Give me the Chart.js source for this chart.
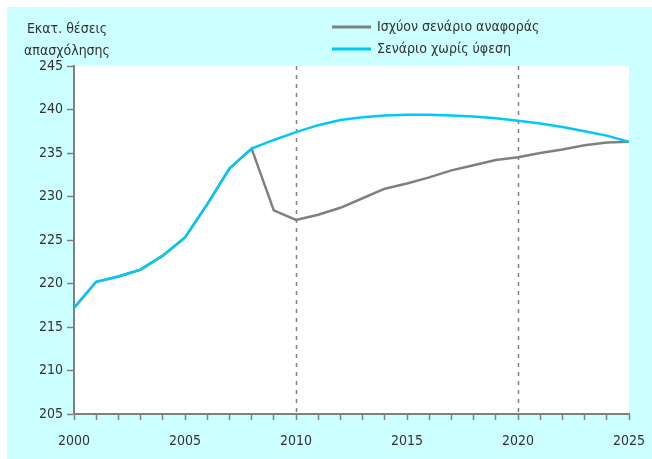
<!DOCTYPE html>
<html>
<head>
<meta charset="utf-8">
<script src="https://cdn.jsdelivr.net/npm/chart.js@4/dist/chart.umd.min.js"></script>
<style>
html,body{margin:0;padding:0;background:#fff;}
#wrap{position:relative;width:652px;height:459px;}
</style>
</head>
<body>
<div id="wrap"><canvas id="c" width="652" height="459"></canvas></div>
<script>
const years = [2000,2001,2002,2003,2004,2005,2006,2007,2008,2009,2010,2011,2012,2013,2014,2015,2016,2017,2018,2019,2020,2021,2022,2023,2024,2025];
const referenceScenario = [217.2,220.2,220.8,221.6,223.2,225.3,229.1,233.2,235.5,228.4,227.3,227.9,228.7,229.8,230.9,231.5,232.2,233.0,233.6,234.2,234.5,235.0,235.4,235.9,236.2,236.3];
const noRecessionScenario = [217.2,220.2,220.8,221.6,223.2,225.3,229.1,233.2,235.5,236.5,237.4,238.2,238.8,239.1,239.3,239.4,239.4,239.3,239.2,239.0,238.7,238.4,238.0,237.5,237.0,236.3];
const seriesNames = ['Ισχύον σενάριο αναφοράς','Σενάριο χωρίς ύφεση'];
const yTitle = ['Εκατ. θέσεις','απασχόλησης'];
const markerYears = [2010,2020];
const yTicks = [205,210,215,220,225,230,235,240,245];

const FONT = '"Liberation Sans Narrow", "DejaVu Sans Condensed", "Liberation Sans", sans-serif';
const GRAY = '#808080';
const CYAN = '#00C8F8';
const TEXT = '#333333';

const decor = {
  id:'decor',
  beforeDraw(chart){
    const ctx = chart.ctx, a = chart.chartArea;
    ctx.save();
    ctx.fillStyle = '#CCFFFF';
    ctx.fillRect(7,7,chart.width-7,chart.height-7);
    ctx.fillStyle = '#FFFFFF';
    ctx.fillRect(a.left,a.top,a.right-a.left,a.bottom-a.top);
    ctx.restore();
  },
  beforeDatasetsDraw(chart){
    const ctx = chart.ctx, a = chart.chartArea, xs = chart.scales.x;
    ctx.save();
    ctx.strokeStyle = GRAY;
    ctx.lineWidth = 1.5;
    ctx.setLineDash([4,5]);
    markerYears.forEach(yr=>{
      const px = Math.round(xs.getPixelForValue(yr))+0.5;
      ctx.beginPath(); ctx.moveTo(px,a.top); ctx.lineTo(px,a.bottom); ctx.stroke();
    });
    ctx.restore();
  },
  afterDraw(chart){
    const ctx = chart.ctx;
    ctx.save();
    ctx.fillStyle = TEXT;
    ctx.font = '14px ' + FONT;
    ctx.textBaseline = 'middle';
    ctx.textAlign = 'center';
    ctx.fillText(yTitle[0], 67, 29);
    ctx.fillText(yTitle[1], 67, 51);
    ctx.textAlign = 'left';
    const ds = chart.data.datasets;
    const rows = [27,49];
    ds.forEach((d,i)=>{
      ctx.strokeStyle = d.borderColor;
      ctx.lineWidth = 3;
      ctx.beginPath(); ctx.moveTo(332,rows[i]); ctx.lineTo(371,rows[i]); ctx.stroke();
      ctx.fillStyle = TEXT;
      ctx.fillText(d.label, 377, rows[i]);
    });
    ctx.restore();
  }
};

new Chart(document.getElementById('c'),{
  type:'line',
  data:{
    labels: years,
    datasets:[
      {label: seriesNames[0], data: years.map((y,i)=>({x:y,y:referenceScenario[i]})), borderColor: GRAY, backgroundColor: GRAY, borderWidth: 2.5, pointRadius: 0, tension: 0, order: 2},
      {label: seriesNames[1], data: years.map((y,i)=>({x:y,y:noRecessionScenario[i]})), borderColor: CYAN, backgroundColor: CYAN, borderWidth: 2.5, pointRadius: 0, tension: 0, order: 1}
    ]
  },
  options:{
    responsive:false,
    animation:false,
    devicePixelRatio:1,
    layout:{padding:{left:0,right:23,top:66,bottom:0}},
    plugins:{legend:{display:false},tooltip:{enabled:false}},
    scales:{
      x:{
        type:'linear', min:2000, max:2025,
        afterBuildTicks(scale){ scale.ticks = years.map(v=>({value:v})); },
        afterFit(scale){ scale.height = 45; scale.paddingLeft = 0; scale.paddingRight = 0; },
        ticks:{
          autoSkip:false, maxRotation:0, color:TEXT, padding:13,
          font:{family:FONT, size:14},
          callback:(v)=> (v%5===0 ? String(v) : '')
        },
        grid:{drawOnChartArea:false, drawTicks:true, tickLength:6, tickColor:GRAY, tickWidth:1.5},
        border:{display:true, color:GRAY, width:2}
      },
      y:{
        min:205, max:245,
        afterBuildTicks(scale){ scale.ticks = yTicks.map(v=>({value:v})); },
        afterFit(scale){ scale.width = 74; scale.paddingTop = 0; scale.paddingBottom = 0; },
        ticks:{color:TEXT, padding:4, font:{family:FONT, size:14}},
        grid:{drawOnChartArea:false, drawTicks:true, tickLength:7, tickColor:GRAY, tickWidth:1.5},
        border:{display:true, color:GRAY, width:2}
      }
    }
  },
  plugins:[decor]
});
</script>
</body>
</html>
